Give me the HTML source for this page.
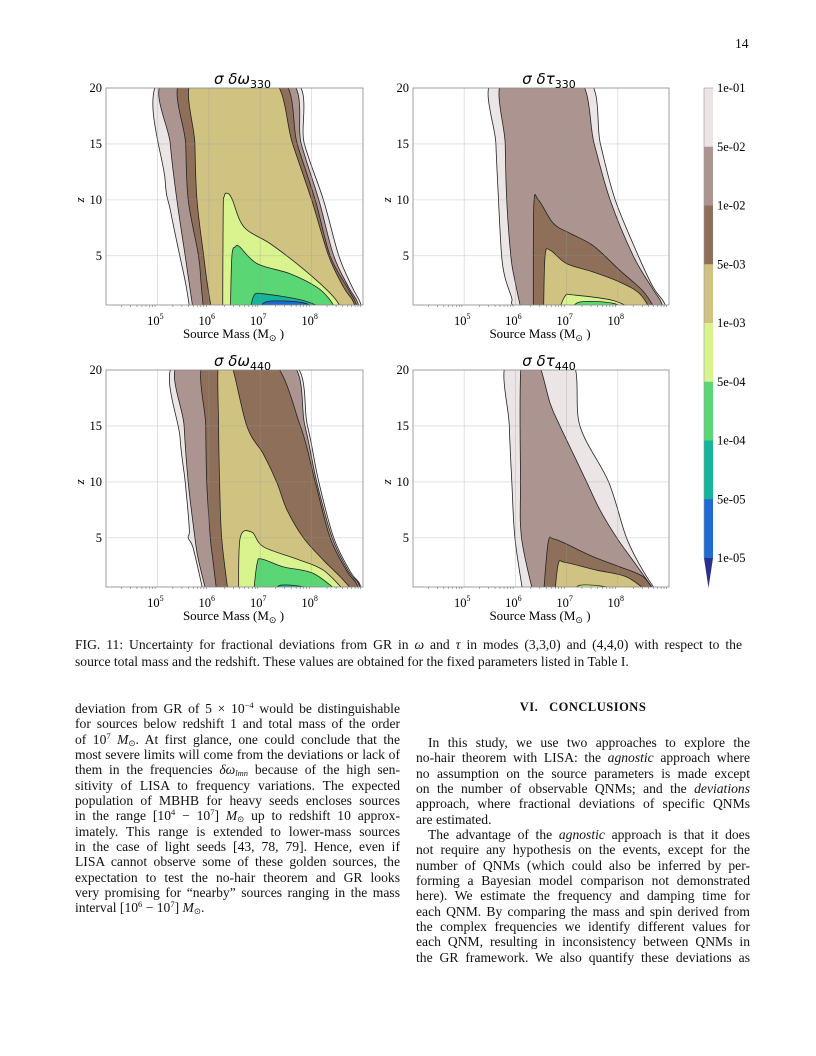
<!DOCTYPE html>
<html><head><meta charset="utf-8">
<style>
body{margin:0;background:#fff;}
#page{position:relative;width:816px;height:1056px;overflow:hidden;font-family:"Liberation Serif",serif;color:#111;}
.ln{position:absolute;font-size:13.6px;white-space:nowrap;}
.col{position:absolute;font-size:13.6px;line-height:15.35px;}
.col div{text-align:justify;text-align-last:justify;white-space:nowrap;height:15.35px;}
.col div.last{text-align-last:left;}
.col div.ind{text-indent:12px;}
sup,sub{font-size:8.5px;line-height:0;}
sup{vertical-align:5px;} sub{vertical-align:-2px;}
</style></head>
<body>
<div id="page">
<div class="ln" style="left:735px;top:36px;">14</div>
<svg id="fig" width="816" height="640" style="position:absolute;left:0;top:0"></svg>
<div class="ln" style="left:75px;top:637px;width:667px;text-align:justify;text-align-last:justify">FIG. 11: Uncertainty for fractional deviations from GR in <i>ω</i> and <i>τ</i> in modes (3,3,0) and (4,4,0) with respect to the</div>
<div class="ln" style="left:75px;top:654px">source total mass and the redshift. These values are obtained for the fixed parameters listed in Table I.</div>

<div class="col" style="left:75px;top:701px;width:325px">
<div>deviation from GR of 5 × 10<sup>−4</sup> would be distinguishable</div>
<div>for sources below redshift 1 and total mass of the order</div>
<div>of 10<sup>7</sup> <i>M</i><sub>⊙</sub>. At first glance, one could conclude that the</div>
<div>most severe limits will come from the deviations or lack of</div>
<div>them in the frequencies <i>δω</i><sub><i>lmn</i></sub> because of the high sen-</div>
<div>sitivity of LISA to frequency variations. The expected</div>
<div>population of MBHB for heavy seeds encloses sources</div>
<div>in the range [10<sup>4</sup> − 10<sup>7</sup>] <i>M</i><sub>⊙</sub> up to redshift 10 approx-</div>
<div>imately. This range is extended to lower-mass sources</div>
<div>in the case of light seeds [43, 78, 79]. Hence, even if</div>
<div>LISA cannot observe some of these golden sources, the</div>
<div>expectation to test the no-hair theorem and GR looks</div>
<div>very promising for “nearby” sources ranging in the mass</div>
<div class="last">interval [10<sup>6</sup> − 10<sup>7</sup>] <i>M</i><sub>⊙</sub>.</div>
</div>

<div class="ln" style="left:416px;top:700px;width:334px;text-align:center;font-weight:bold;font-size:12.5px;letter-spacing:0.5px">VI.&nbsp;&nbsp;&nbsp;CONCLUSIONS</div>
<div class="col" style="left:416px;top:735px;width:334px">
<div class="ind">In this study, we use two approaches to explore the</div>
<div>no-hair theorem with LISA: the <i>agnostic</i> approach where</div>
<div>no assumption on the source parameters is made except</div>
<div>on the number of observable QNMs; and the <i>deviations</i></div>
<div>approach, where fractional deviations of specific QNMs</div>
<div class="last">are estimated.</div>
<div class="ind">The advantage of the <i>agnostic</i> approach is that it does</div>
<div>not require any hypothesis on the events, except for the</div>
<div>number of QNMs (which could also be inferred by per-</div>
<div>forming a Bayesian model comparison not demonstrated</div>
<div>here). We estimate the frequency and damping time for</div>
<div>each QNM. By comparing the mass and spin derived from</div>
<div>the complex frequencies we identify different values for</div>
<div>each QNM, resulting in inconsistency between QNMs in</div>
<div>the GR framework. We also quantify these deviations as</div>
</div>
</div>
<script>
const levelLabels=['1e-01','5e-02','1e-02','5e-03','1e-03','5e-04','1e-04','5e-05','1e-05'];
const levelColors=['#ebe5e5','#ac9591','#8e6f59','#d0c381','#d9f38e','#5ad774','#14b59b','#1f6bd3'];
const xTicks=[5,6,7,8];
const yTicks=[5,10,15,20];
const xDomain=[4,9];
const zDomain=[0.6,20];
// contours: [levelIndex, [[log10 M, z], ...]]
const w330Contours=[
 [0,[[5.64,0],[5.55,2.5],[5.44,4.9],[5.25,9.1],[5.15,11.8],[5.08,21],[7.58,21],[7.86,15],[8.23,10],[8.53,5],[8.79,2.2],[8.93,1],[9.0,0]]],
 [1,[[5.70,0],[5.62,2.5],[5.54,5],[5.38,10],[5.25,15],[5.18,21],[7.49,21],[7.8,15],[8.14,10],[8.43,5],[8.72,2.2],[8.88,1],[8.95,0]]],
 [2,[[5.9,0],[5.85,2.5],[5.8,5],[5.6,10],[5.55,15],[5.51,21],[7.36,21],[7.72,15],[8.07,10],[8.36,5],[8.69,2.2],[8.84,1],[8.92,0]]],
 [3,[[6.06,0],[5.97,2.5],[5.9,5],[5.77,10],[5.73,15],[5.71,21],[7.2,21],[7.63,15],[8.0,10],[8.33,5],[8.62,2.2],[8.8,1],[8.88,0]]],
 [4,[[6.27,0],[6.28,9],[6.30,10.3],[6.35,10.6],[6.45,10.1],[6.68,7.6],[7.19,6.1],[7.71,4.3],[8.17,2.5],[8.45,1.2],[8.62,0]]],
 [5,[[6.42,0],[6.45,5.0],[6.52,5.8],[6.6,5.8],[6.94,4.3],[7.58,3.4],[8.1,2.2],[8.35,1.1],[8.49,0]]],
 [6,[[6.8,0],[6.88,1.45],[7.06,1.6],[7.84,1.0],[8.36,0]]],
 [7,[[7.0,0],[7.13,0.9],[7.84,0.8],[8.1,0]]]
];
const t330Contours=[
 [0,[[6.12,0],[5.93,0.7],[5.93,1.2],[5.8,3],[5.73,5],[5.67,10],[5.62,15],[5.59,21],[7.36,21],[7.66,15],[7.95,10],[8.4,5],[8.69,2.2],[8.88,1],[8.99,0]]],
 [1,[[6.12,0],[5.98,3],[5.91,5],[5.83,10],[5.8,15],[5.78,21],[7.2,21],[7.54,15],[7.85,10],[8.3,5],[8.66,2.2],[8.83,1],[8.92,0]]],
 [2,[[6.35,0],[6.36,9.5],[6.45,10.0],[6.74,7.9],[7.07,7.0],[7.52,5.9],[8.04,3.7],[8.5,1.8],[8.76,0]]],
 [3,[[6.55,0],[6.58,5],[6.68,5.5],[7.0,4.3],[7.52,3.55],[8.04,2.65],[8.43,1.6],[8.66,0]]],
 [4,[[6.84,0],[6.97,1.4],[7.13,1.5],[7.91,1.0],[8.37,0]]],
 [5,[[7.07,0],[7.26,0.87],[7.91,0.75],[8.17,0]]]
];
const w440Contours=[
 [0,[[5.9,0],[5.7,4],[5.6,5],[5.62,5.8],[5.54,10],[5.44,14],[5.38,21],[7.55,21],[7.92,15],[8.14,10],[8.43,5],[8.75,2],[8.92,1],[9.0,0]]],
 [1,[[5.96,0],[5.8,3],[5.73,5],[5.6,10],[5.52,15],[5.47,21],[7.51,21],[7.87,15],[8.1,10],[8.4,5],[8.72,2],[8.9,1],[8.98,0]]],
 [2,[[6.16,0],[6.08,3],[6.03,5],[5.96,10],[5.94,15],[5.93,21],[7.19,21],[7.78,15],[8.07,10],[8.36,5],[8.69,2],[8.86,1],[8.95,0]]],
 [3,[[6.38,0],[6.25,5],[6.21,10],[6.19,15],[6.19,21],[6.41,21],[6.74,15],[7.06,12.5],[7.32,10],[7.52,7.5],[7.84,5],[8.23,3],[8.56,1.5],[8.85,0]]],
 [4,[[6.58,0],[6.61,5],[6.84,5.5],[7.06,4.2],[7.71,3.1],[8.23,2.1],[8.69,0]]],
 [5,[[6.87,0],[6.94,2.7],[7.03,3.1],[7.45,2.4],[8.04,1.8],[8.56,0]]],
 [6,[[7.26,0],[7.39,0.75],[7.84,0.6],[7.97,0]]]
];
const t440Contours=[
 [0,[[6.15,0],[5.99,5],[5.93,10],[5.88,15],[5.86,21],[7.07,21],[7.26,15],[7.82,10],[8.17,5],[8.5,2],[8.79,0]]],
 [1,[[6.35,0],[6.12,5],[6.1,10],[6.12,21],[6.42,21],[6.68,17],[6.87,15],[7.13,12.5],[7.39,10],[7.65,7.5],[7.98,5],[8.37,2.5],[8.76,0]]],
 [2,[[6.55,0],[6.64,4.6],[6.74,4.9],[6.97,4.5],[7.52,3.3],[8.04,2.4],[8.5,1.5],[8.73,0]]],
 [3,[[6.77,0],[6.84,2.7],[6.97,2.8],[7.59,2.1],[8.17,1.5],[8.63,0]]],
 [4,[[7.13,0],[7.26,0.75],[7.78,0.6],[7.91,0]]]
];
const panelTitles=['δω','δτ','δω','δτ'];
const panelSubs=['330','330','440','440'];

const NS='http://www.w3.org/2000/svg';
const svg=document.getElementById('fig');
function mk(tag,attrs,parent){const e=document.createElementNS(NS,tag);for(const k in attrs)e.setAttribute(k,attrs[k]);(parent||svg).appendChild(e);return e;}

const panels=[
 {c:w330Contours,L:106,R:363,T:88,B:305,name:'omega-330'},
 {c:t330Contours,L:413,R:669,T:88,B:305,name:'tau-330'},
 {c:w440Contours,L:106,R:363,T:370,B:587,name:'omega-440'},
 {c:t440Contours,L:413,R:669,T:370,B:587,name:'tau-440'}
];
function smoothPath(P){
 let d='M'+P[0][0].toFixed(1)+','+P[0][1].toFixed(1);
 for(let i=0;i<P.length-1;i++){
  const p0=P[i-1]||P[i],p1=P[i],p2=P[i+1],p3=P[i+2]||p2;
  const c1=[p1[0]+(p2[0]-p0[0])/6,p1[1]+(p2[1]-p0[1])/6];
  const c2=[p2[0]-(p3[0]-p1[0])/6,p2[1]-(p3[1]-p1[1])/6];
  d+=' C'+c1[0].toFixed(1)+','+c1[1].toFixed(1)+' '+c2[0].toFixed(1)+','+c2[1].toFixed(1)+' '+p2[0].toFixed(1)+','+p2[1].toFixed(1);
 }
 return d+' Z';
}
panels.forEach((p,i)=>{
 const g=mk('g',{});
 
 
 const xs=v=>p.L+(v-xDomain[0])/(xDomain[1]-xDomain[0])*(p.R-p.L);
 const ys=v=>p.B-(v-zDomain[0])/(zDomain[1]-zDomain[0])*(p.B-p.T);
 const cp=mk('clipPath',{id:'cp'+i},g);
 mk('rect',{x:p.L,y:p.T,width:p.R-p.L,height:p.B-p.T},cp);
 const bg=mk('rect',{x:p.L,y:p.T,width:p.R-p.L,height:p.B-p.T,fill:'#fff'},g);
 
 
 const cg=mk('g',{'clip-path':'url(#cp'+i+')'},g);
 p.c.forEach(([k,pts])=>{
  const P=pts.map(q=>[xs(q[0]),ys(q[1])]);
  const path=mk('path',{d:smoothPath(P),fill:levelColors[k],stroke:'#222','stroke-width':0.8,'stroke-linejoin':'round'},cg);
  
  
 });
 xTicks.forEach(t=>{
  mk('line',{x1:xs(t),x2:xs(t),y1:p.T,y2:p.B,stroke:'#999','stroke-opacity':0.35,'stroke-width':0.8},g);
  const tx=mk('text',{x:xs(t)-2,y:p.B+20,'font-size':12.5,'text-anchor':'middle','font-family':'Liberation Serif, serif'},g);
  tx.innerHTML='10<tspan dy="-6" font-size="8">'+t+'</tspan>';
  
  
 });
 for(let d=4;d<9;d++)for(let m=2;m<10;m++){const x=xs(d+Math.log10(m));mk('line',{x1:x,x2:x,y1:p.B,y2:p.B+2,stroke:'#555','stroke-width':0.5},g);}
 yTicks.forEach(t=>{
  if(t<20)mk('line',{x1:p.L,x2:p.R,y1:ys(t),y2:ys(t),stroke:'#999','stroke-opacity':0.35,'stroke-width':0.8},g);
  const ty=mk('text',{x:p.L-4,y:ys(t)+4,'font-size':12.5,'text-anchor':'end','font-family':'Liberation Serif, serif'},g);
  ty.textContent=t;
  
  
 });
 mk('rect',{x:p.L,y:p.T,width:p.R-p.L,height:p.B-p.T,fill:'none',stroke:'#888','stroke-width':0.8},g);
 const ttl=mk('text',{x:(p.L+p.R)/2+8,y:p.T-4,'font-size':15,'text-anchor':'middle','font-family':'DejaVu Sans, sans-serif','font-style':'italic'},g);
 ttl.innerHTML='σ '+panelTitles[i]+'<tspan dy="4" font-size="11" font-style="normal">'+panelSubs[i]+'</tspan>';
 
 
 const xl=mk('text',{x:(p.L+p.R)/2-1,y:p.B+33,'font-size':13,'text-anchor':'middle','font-family':'Liberation Serif, serif'},g);
 xl.innerHTML='Source Mass (M<tspan dy="3" font-size="9">⊙</tspan><tspan dy="-3"> )</tspan>';
 
 
 const yl=mk('text',{x:0,y:0,'font-size':13,'text-anchor':'middle','font-style':'italic','font-family':'Liberation Serif, serif',transform:'translate('+(p.L-22)+','+ys(10)+') rotate(-90)'},g);
 yl.textContent='z';
 
 
});
const cb=mk('g',{});


const cbT=88,cbB=558,cbL=704,cbW=9;
const band=(cbB-cbT)/levelColors.length;
levelColors.forEach((c,k)=>{
 const r=mk('rect',{x:cbL,y:cbT+k*band,width:cbW,height:band+0.5,fill:c},cb);
 
 
});
mk('path',{d:`M${cbL},${cbB} L${cbL+cbW},${cbB} L${cbL+cbW/2},${cbB+30} Z`,fill:'#2b2f8e'},cb);
mk('line',{x1:cbL,x2:cbL,y1:cbT,y2:cbB,stroke:'#999','stroke-width':0.6},cb);
mk('line',{x1:cbL,x2:cbL+cbW,y1:cbT,y2:cbT,stroke:'#999','stroke-width':0.6},cb);
levelLabels.forEach((l,k)=>{
 const t=mk('text',{x:cbL+cbW+4,y:cbT+k*band+4,'font-size':12.5,'font-family':'Liberation Serif, serif'},cb);
 t.textContent=l;
 
 
});
</script>
</body></html>
